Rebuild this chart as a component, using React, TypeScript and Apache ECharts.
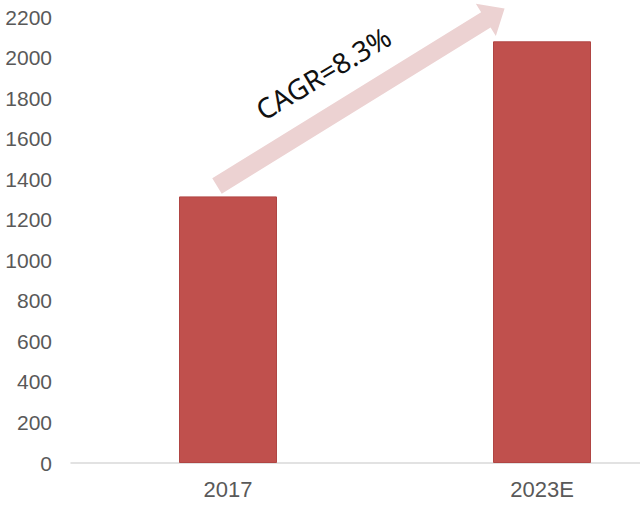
import React, { useEffect, useRef } from "react";
import * as echarts from "echarts";

const categories = ["2017", "2023E"];
const values = [1315, 2080];
const yTicks = { min: 0, max: 2200, interval: 200 };
const cagrLabel = "CAGR=8.3%";

// arrow geometry for the CAGR annotation (pixels)
const arrowTail = [217, 186];
const arrowAngle = (31.7 * Math.PI) / 180;
const arrowLen = 338;
const headLen = 22;
const shaftHalf = 9;
const headHalf = 19;

function arrowPoints() {
  const d = [Math.cos(arrowAngle), -Math.sin(arrowAngle)];
  const n = [Math.sin(arrowAngle), Math.cos(arrowAngle)];
  const at = (t: number, s: number) => [
    arrowTail[0] + d[0] * t + n[0] * s,
    arrowTail[1] + d[1] * t + n[1] * s,
  ];
  const b = arrowLen - headLen;
  return [
    at(0, shaftHalf),
    at(b, shaftHalf),
    at(b, headHalf),
    at(arrowLen, 0),
    at(b, -headHalf),
    at(b, -shaftHalf),
    at(0, -shaftHalf),
  ];
}

const App = () => {
  const chartRef = useRef<HTMLDivElement>(null);

  useEffect(() => {
    if (!chartRef.current) return;
    const chart = echarts.init(chartRef.current, undefined, { renderer: "svg" });

    chart.setOption({
      animation: false,
      backgroundColor: "#ffffff",
      grid: { left: 71, width: 628, top: 17, height: 446 },
      xAxis: {
        type: "category",
        data: categories,
        axisLine: { lineStyle: { color: "#d9d9d9", width: 1.5 } },
        axisTick: { show: false },
        axisLabel: {
          color: "#595959",
          fontSize: 22,
          fontFamily: "Liberation Sans",
          margin: 15,
        },
      },
      yAxis: {
        type: "value",
        min: yTicks.min,
        max: yTicks.max,
        interval: yTicks.interval,
        splitLine: { show: false },
        axisLine: { show: false },
        axisTick: { show: false },
        axisLabel: {
          color: "#595959",
          fontSize: 21,
          fontFamily: "Liberation Sans",
          margin: 19,
          formatter: (v: number) => String(v),
        },
      },
      series: [
        {
          type: "bar",
          data: values,
          barWidth: 98,
          itemStyle: { color: "#c0504d", borderColor: "#b04543", borderWidth: 1 },
        },
      ],
      graphic: [
        {
          type: "polygon",
          shape: { points: arrowPoints() },
          style: { fill: "#ecd2d2" },
          z: 10,
        },
        {
          type: "text",
          x: 323,
          y: 73,
          rotation: (31 * Math.PI) / 180,
          style: {
            text: cagrLabel,
            fill: "#111111",
            fontSize: 28,
            fontFamily: "Noto Sans",
            align: "center",
            verticalAlign: "middle",
          },
          z: 11,
        },
      ],
    });

    return () => chart.dispose();
  }, []);

  return (
    <div
      style={{
        position: "absolute",
        left: 0,
        top: 0,
        width: 640,
        height: 514,
        overflow: "hidden",
        background: "#fff",
      }}
    >
      <div ref={chartRef} style={{ width: 700, height: 514 }} />
    </div>
  );
};

export default App;
